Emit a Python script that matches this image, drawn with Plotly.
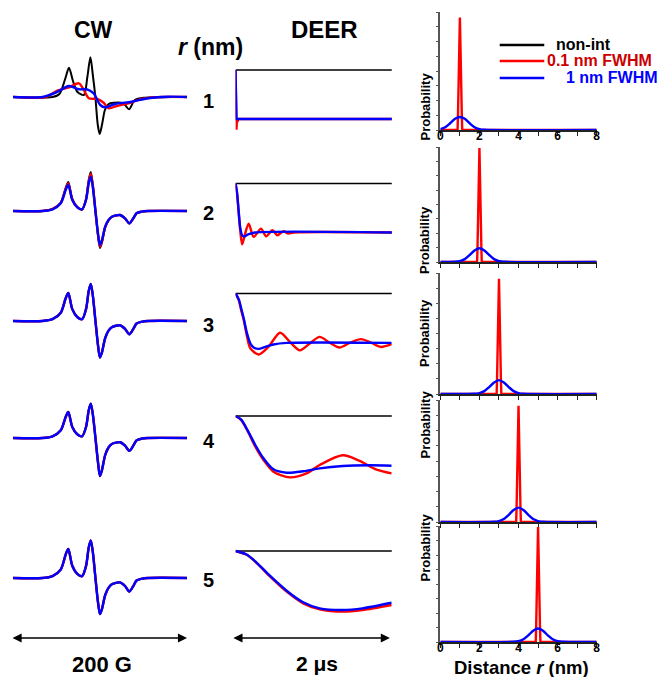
import plotly.graph_objects as go

W, H = 666, 677

# ---------------- DATA ----------------
rows = ["1", "2", "3", "4", "5"]

# CW spectra (field in G, 0..200; amplitude in arbitrary units, baseline 0)
cw1_black_x = [0, 45.5, 53.4, 60, 64.4, 69, 73.9, 81.5, 85.5, 89, 91.8, 94.7, 97.5, 99.7, 102.5, 105.7, 110, 115.6, 127, 133.3, 140, 151.5, 200]
cw1_black_y = [0, 0, 3, 18, 29.3, 16, 5.3, 2, 20, 39.7, 22, 0, -28, -37, -27, -13, -7, -5.7, -6.3, -12.3, -3, -0.7, 0]
cw1_red_x = [0, 37.5, 51, 64.4, 75.8, 81.5, 87.2, 96.6, 104.2, 110, 119.3, 132.6, 147.7, 170.5, 200]
cw1_red_y = [0, 0, 6.3, 9.7, 13.7, 7, -1.3, -2, -5.7, -11.3, -9, -6.3, -2, 0, 0]
cw1_blue_x = [0, 34, 49.2, 64.4, 75.8, 85.2, 92.8, 100.3, 106, 117.4, 136.4, 155.3, 178, 200]
cw1_blue_y = [0, 0, 4.3, 11, 7.7, 7.7, 3.7, -8, -10.3, -7, -4.7, -1.3, 0.3, 0]

cw_x = [0, 34, 45.5, 55, 60.6, 63.6, 68.2, 73.9, 79.5, 84, 87.1, 89.4, 91.7, 94.7, 97.7, 100,
        102.3, 106, 109.8, 113.6, 123, 128.8, 133.7, 138.3, 142, 147.7, 155, 200]
cw2_black = [0, 0, 2, 8.5, 23, 29, 12, 4, 1.5, 12, 31, 39, 27, 1, -24, -37, -31.5, -16.5, -9.5, -6, -4, -7.5, -12.5, -7.5, -2.3, -0.7, 0, 0]
cw2_red = [0, 0, 1.8, 8, 22, 27.5, 11.5, 3.8, 1.6, 11.5, 29.5, 37, 26, 1, -23, -35.5, -30, -16, -9.2, -5.8, -4, -7.4, -12.4, -7.4, -2.3, -0.7, 0, 0]
cw2_blue = [0, 0, 1.7, 7.7, 21, 26, 11, 3.7, 1.7, 11, 27.7, 34.3, 24.3, 1, -22.3, -34, -29, -15.7, -9, -5.7, -4, -7.3, -12.3, -7.3, -2.3, -0.7, 0, 0]
cw3_all = [0, 0, 1.8, 8.3, 22.7, 28, 11.9, 4, 1.8, 11.9, 30, 37, 26.2, 1, -24, -36.5, -31.3, -17, -9.7, -6.2, -4.3, -7.9, -13.2, -7.9, -2.5, -0.8, 0, 0]
cw4_all = [0, 0, 1.7, 7.7, 21, 26, 11, 3.7, 1.7, 11, 27.7, 34.3, 24.3, 1, -24, -38, -32, -17, -9.5, -6, -4.2, -7.6, -12.8, -7.6, -2.4, -0.7, 0, 0]
cw5_all = [0, 0, 1.9, 8.5, 23.4, 29, 12.2, 4.1, 1.9, 12, 30.5, 37.5, 26.6, 1, -24, -36, -31, -17, -9.8, -6.3, -4.4, -8, -13.5, -8, -2.5, -0.8, 0, 0]

# DEER traces (time in us, normalised echo)
deer_black_x = [0, 2]
deer_black_y = [1, 1]
deer1_red_x = [0, 0.006, 0.012, 0.018, 0.025, 0.035, 2]
deer1_red_y = [1, 0.6, 0.39, 0.5, 0.47, 0.5, 0.5]
deer1_blue_x = [0, 0.012, 2]
deer1_blue_y = [1, 0.5, 0.5]
deer2_red_x = [0, 0.02, 0.04, 0.06, 0.085, 0.12, 0.169, 0.232, 0.325, 0.392, 0.472, 0.535, 0.611, 0.675, 0.74, 2]
deer2_red_y = [1, 0.9, 0.7, 0.52, 0.38, 0.48, 0.59, 0.455, 0.54, 0.462, 0.523, 0.472, 0.513, 0.49, 0.5, 0.5]
deer2_blue_x = [0, 0.02, 0.04, 0.06, 0.085, 0.11, 0.16, 0.25, 2]
deer2_blue_y = [1, 0.9, 0.72, 0.55, 0.47, 0.46, 0.48, 0.5, 0.5]
deer3_red_x = [0, 0.042, 0.072, 0.105, 0.148, 0.19, 0.295, 0.42, 0.57, 0.696, 0.823, 0.95, 1.076, 1.2, 1.329, 1.47, 1.604, 1.73, 1.857, 1.996]
deer3_red_y = [1, 0.93, 0.83, 0.73, 0.557, 0.44, 0.378, 0.455, 0.6, 0.506, 0.42, 0.49, 0.557, 0.5, 0.449, 0.5, 0.534, 0.5, 0.455, 0.483]
deer3_blue_x = [0, 0.042, 0.072, 0.105, 0.148, 0.19, 0.232, 0.295, 0.38, 0.485, 0.654, 1.996]
deer3_blue_y = [1, 0.94, 0.85, 0.745, 0.59, 0.49, 0.449, 0.435, 0.455, 0.48, 0.496, 0.496]
deer4_red_x = [0, 0.07, 0.148, 0.253, 0.358, 0.485, 0.696, 0.908, 1.076, 1.371, 1.582, 1.794, 1.996]
deer4_red_y = [1, 0.96, 0.857, 0.687, 0.551, 0.432, 0.374, 0.415, 0.5, 0.599, 0.544, 0.456, 0.415]
deer4_blue_x = [0, 0.07, 0.148, 0.253, 0.358, 0.485, 0.654, 0.865, 1.076, 1.371, 1.709, 1.996]
deer4_blue_y = [1, 0.965, 0.864, 0.704, 0.568, 0.456, 0.421, 0.436, 0.466, 0.49, 0.497, 0.493]
deer5_red_x = [0, 0.148, 0.275, 0.443, 0.654, 0.865, 1.076, 1.371, 1.624, 1.996]
deer5_red_y = [1, 0.959, 0.874, 0.738, 0.585, 0.466, 0.405, 0.381, 0.398, 0.449]
deer5_blue_x = [0, 0.148, 0.275, 0.443, 0.654, 0.865, 1.076, 1.371, 1.624, 1.996]
deer5_blue_y = [1, 0.962, 0.877, 0.745, 0.595, 0.477, 0.415, 0.398, 0.415, 0.472]

# Distance distributions (nm, probability)
dist1_red_x = [0, 0.88, 0.9, 1.0, 1.1, 1.12, 8]
dist1_red_y = [0, 0, 0.12, 1.0, 0.12, 0, 0]
dist2_red_x = [0, 1.88, 1.9, 2.0, 2.1, 2.12, 8]
dist2_red_y = [0, 0, 0.12, 1.04, 0.12, 0, 0]
dist3_red_x = [0, 2.88, 2.9, 3.0, 3.1, 3.12, 8]
dist3_red_y = [0, 0, 0.12, 1.0, 0.12, 0, 0]
dist4_red_x = [0, 3.88, 3.9, 4.0, 4.1, 4.12, 8]
dist4_red_y = [0, 0, 0.12, 1.0, 0.12, 0, 0]
dist5_red_x = [0, 4.88, 4.9, 5.0, 5.1, 5.12, 8]
dist5_red_y = [0, 0, 0.12, 1.04, 0.12, 0, 0]
dist1_blue_x = [0, 0.25, 0.5, 0.75, 1.0, 1.25, 1.5, 1.75, 2.0, 2.25, 8]
dist1_blue_y = [0.008, 0.025, 0.06, 0.1, 0.116, 0.1, 0.06, 0.025, 0.008, 0.002, 0]
dist2_blue_x = [0, 0.75, 1.0, 1.25, 1.5, 1.75, 2.0, 2.25, 2.5, 2.75, 3.0, 3.25, 8]
dist3_blue_x = [0, 1.75, 2.0, 2.25, 2.5, 2.75, 3.0, 3.25, 3.5, 3.75, 4.0, 4.25, 8]
dist4_blue_x = [0, 2.75, 3.0, 3.25, 3.5, 3.75, 4.0, 4.25, 4.5, 4.75, 5.0, 5.25, 8]
dist5_blue_x = [0, 3.75, 4.0, 4.25, 4.5, 4.75, 5.0, 5.25, 5.5, 5.75, 6.0, 6.25, 8]
dist2_blue_y = [0, 0.002, 0.008, 0.026, 0.064, 0.106, 0.126, 0.106, 0.064, 0.026, 0.008, 0.002, 0]
dist3_blue_y = [0, 0.002, 0.008, 0.025, 0.06, 0.1, 0.12, 0.1, 0.06, 0.025, 0.008, 0.002, 0]
dist4_blue_y = [0, 0.002, 0.008, 0.026, 0.062, 0.104, 0.124, 0.104, 0.062, 0.026, 0.008, 0.002, 0]
dist5_blue_y = [0, 0.002, 0.008, 0.025, 0.06, 0.102, 0.122, 0.102, 0.06, 0.025, 0.008, 0.002, 0]

dist_ticks = [0, 1, 2, 3, 4, 5, 6, 7, 8]
dist_ticktext = ["0", "", "2", "", "4", "", "6", "", "8"]
legend_labels = ["non-int", "0.1 nm FWHM", "1 nm FWHM"]

# ---------------- LAYOUT HELPERS ----------------
BLACK, RED, BLUE = "#000000", "#ff0000", "#0000ff"
FONT = "Liberation Sans, Arial, sans-serif"


def px(x):
    return x / W


def py(y):
    return 1 - y / H


fig = go.Figure()
layout = {}
idx = [0]


def new_axes(xdom, ydom, xr, yr):
    idx[0] += 1
    i = idx[0]
    xa = "x" if i == 1 else f"x{i}"
    ya = "y" if i == 1 else f"y{i}"
    layout["xaxis" if i == 1 else f"xaxis{i}"] = dict(
        domain=[px(xdom[0]), px(xdom[1])], range=xr, anchor=ya, visible=False,
        showgrid=False, zeroline=False, fixedrange=True)
    layout["yaxis" if i == 1 else f"yaxis{i}"] = dict(
        domain=[py(ydom[1]), py(ydom[0])], range=yr, anchor=xa, visible=False,
        showgrid=False, zeroline=False, fixedrange=True)
    return i, xa, ya


def add_line(xa, ya, x, y, color, width, shape="spline"):
    fig.add_trace(go.Scatter(x=x, y=y, mode="lines", xaxis=xa, yaxis=ya,
                             line=dict(color=color, width=width, shape=shape, smoothing=0.8),
                             showlegend=False, hoverinfo="skip"))


# ---------------- CW column ----------------
cw_base = [97, 211, 321, 438, 578]
cw_sets = [
    [(cw1_black_x, cw1_black_y), (cw1_red_x, cw1_red_y), (cw1_blue_x, cw1_blue_y)],
    [(cw_x, cw2_black), (cw_x, cw2_red), (cw_x, cw2_blue)],
    [(cw_x, cw3_all), (cw_x, cw3_all), (cw_x, cw3_all)],
    [(cw_x, cw4_all), (cw_x, cw4_all), (cw_x, cw4_all)],
    [(cw_x, cw5_all), (cw_x, cw5_all), (cw_x, cw5_all)],
]
for b, sets in zip(cw_base, cw_sets):
    i, xa, ya = new_axes((10, 186), (b - 50, b + 50), [0, 200], [-50, 50])
    for (x, y), c, w in zip(sets, [BLACK, RED, BLUE], [2, 2.4, 2.4]):
        add_line(xa, ya, x, y, c, w)

# ---------------- DEER column ----------------
deer_top = [70, 183.5, 293.5, 416, 551]
deer_sets = [
    [(deer1_red_x, deer1_red_y, "linear"), (deer1_blue_x, deer1_blue_y, "linear")],
    [(deer2_red_x, deer2_red_y, "spline"), (deer2_blue_x, deer2_blue_y, "spline")],
    [(deer3_red_x, deer3_red_y, "spline"), (deer3_blue_x, deer3_blue_y, "spline")],
    [(deer4_red_x, deer4_red_y, "spline"), (deer4_blue_x, deer4_blue_y, "spline")],
    [(deer5_red_x, deer5_red_y, "spline"), (deer5_blue_x, deer5_blue_y, "spline")],
]
SC = 98.0
for t, sets in zip(deer_top, deer_sets):
    i, xa, ya = new_axes((235, 393), (t - 15, t + 85), [0, 2], [1 - 85 / SC, 1 + 15 / SC])
    add_line(xa, ya, deer_black_x, deer_black_y, BLACK, 1.6, "linear")
    for (x, y, s), c in zip(sets, [RED, BLUE]):
        add_line(xa, ya, x, y, c, 2.4, s)

# ---------------- Distance column ----------------
dist_box = [(12, 130), (147, 262), (273, 394), (400, 522), (526, 642)]
dist_sets = [
    (dist1_red_x, dist1_red_y, dist1_blue_x, dist1_blue_y),
    (dist2_red_x, dist2_red_y, dist2_blue_x, dist2_blue_y),
    (dist3_red_x, dist3_red_y, dist3_blue_x, dist3_blue_y),
    (dist4_red_x, dist4_red_y, dist4_blue_x, dist4_blue_y),
    (dist5_red_x, dist5_red_y, dist5_blue_x, dist5_blue_y),
]
YMAX = 1.05
annotations = []
for k, ((top, bot), (rx, ry, bx, by)) in enumerate(zip(dist_box, dist_sets)):
    i, xa, ya = new_axes((442, 600), (top, bot), [0, 8], [0, YMAX])
    xk = "xaxis" if i == 1 else f"xaxis{i}"
    yk = "yaxis" if i == 1 else f"yaxis{i}"
    layout[xk].update(visible=True, showline=True, linecolor="#222", linewidth=1.5,
                      ticks="outside", ticklen=4, tickwidth=1.2, tickcolor="#222",
                      tickvals=dist_ticks, ticktext=dist_ticktext,
                      showticklabels=(k in (0, 4)), ticklabelstandoff=-10,
                      tickfont=dict(family=FONT, size=12, color="black", weight="bold"))
    layout[yk].update(visible=True, showline=True, linecolor="#555", linewidth=1.5,
                      ticks="outside", ticklen=3, tickwidth=1, tickcolor="#555",
                      tick0=0, dtick=YMAX / 8, showticklabels=False)
    add_line(xa, ya, rx, ry, RED, 2.4, "linear")
    add_line(xa, ya, bx, by, BLUE, 2.4, "spline")
    annotations.append(dict(x=px(426), y=py((top + bot) / 2), xref="paper", yref="paper",
                            text="<b>Probability</b>", showarrow=False, textangle=-90,
                            font=dict(family=FONT, size=13, color="black")))

# ---------------- Text ----------------
def txt(x, y, s, size, color="black", xanchor="center"):
    annotations.append(dict(x=px(x), y=py(y), xref="paper", yref="paper", text=s,
                            showarrow=False, xanchor=xanchor, yanchor="middle",
                            font=dict(family=FONT, size=size, color=color)))


txt(91, 30, "<b>CW</b>", 23)
txt(325, 30, "<b>DEER</b>", 24)
txt(210, 47, "<b><i>r</i> (nm)</b>", 23)
for r, yy in zip(rows, [101, 213, 325, 441, 580]):
    txt(208, yy, f"<b>{r}</b>", 20)
txt(100, 664, "<b>200 G</b>", 22)
txt(317, 663, "<b>2 μs</b>", 21)
txt(524, 667, "<b>Distance <i>r</i> (nm)</b>", 18.5)

# legend
leg_y = [45, 61, 78]
leg_cols = [BLACK, RED, BLUE]
leg_text_cols = ["#000000", "#cc0000", "#0000ff"]
leg_text_x = [557, 548, 567]
shapes = []
for lab, yy, c, tc, tx in zip(legend_labels, leg_y, leg_cols, leg_text_cols, leg_text_x):
    shapes.append(dict(type="line", xref="paper", yref="paper", x0=px(502), x1=px(547),
                       y0=py(yy), y1=py(yy), line=dict(color=c, width=2.5)))
    txt(tx, yy, f"<b>{lab}</b>", 16, tc, "left")

# scale arrows
for x0, x1 in [(10, 186), (233, 391)]:
    annotations.append(dict(x=px(x1), y=py(638), xref="paper", yref="paper",
                            ax=-(x1 - x0), ay=0, text="", showarrow=True,
                            arrowside="end+start", arrowhead=2, arrowsize=1.3,
                            arrowwidth=1.4, arrowcolor="black", standoff=0, startstandoff=0))

fig.update_layout(**layout)
fig.update_layout(width=W, height=H, autosize=False,
                  margin=dict(l=0, r=0, t=0, b=0, pad=0),
                  paper_bgcolor="white", plot_bgcolor="rgba(0,0,0,0)",
                  annotations=annotations, shapes=shapes, showlegend=False)
fig.write_html("out.html", config={"displayModeBar": False})
